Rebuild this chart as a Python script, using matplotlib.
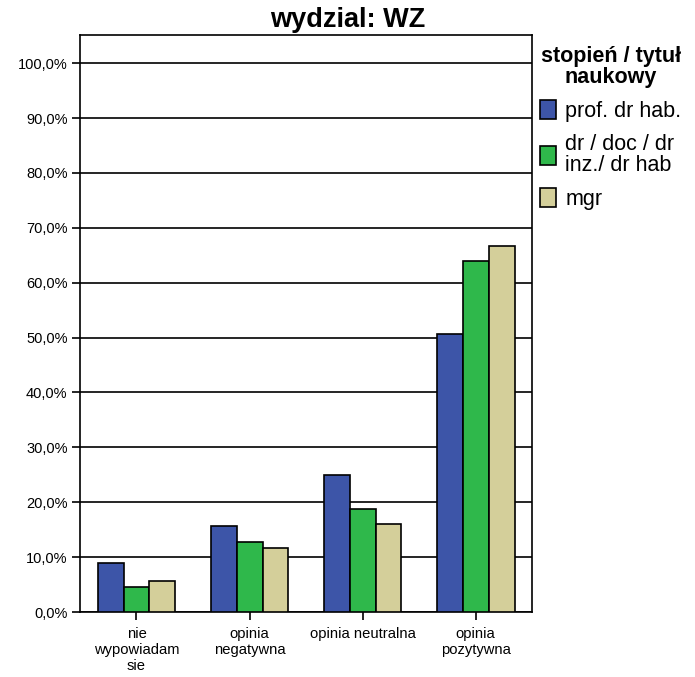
import numpy as np
import matplotlib
matplotlib.use('Agg')
import matplotlib.pyplot as plt
from matplotlib.ticker import FuncFormatter

plt.rcParams['font.family'] = ['Liberation Sans', 'DejaVu Sans']

# dane (%)
kategorie = ['nie\nwypowiadam\nsie', 'opinia\nnegatywna', 'opinia neutralna', 'opinia\npozytywna']
serie = ['prof. dr hab.', 'dr / doc / dr\ninz./ dr hab', 'mgr']
prof = [8.9, 15.6, 24.9, 50.6]
dr = [4.5, 12.7, 18.8, 64.0]
mgr = [5.6, 11.7, 16.0, 66.7]
kolory = ['#3D55A8', '#2FB84B', '#D4CF9A']

fig = plt.figure(figsize=(6.95, 6.77), dpi=100)
ax = fig.add_axes([0.1151, 0.096, 0.6504, 0.852])

x = np.arange(len(kategorie))
w = 0.23
for i, (vals, lab, c) in enumerate(zip([prof, dr, mgr], serie, kolory)):
    ax.bar(x + (i - 1) * w, vals, w, color=c, edgecolor='black', linewidth=1.2,
           label=lab, zorder=3)

ax.set_xlim(-0.5, 3.5)
ax.set_ylim(0, 105.1)
ax.set_yticks(np.arange(0, 101, 10))
ax.yaxis.set_major_formatter(FuncFormatter(lambda v, p: f'{v:.1f}%'.replace('.', ',')))
ax.grid(axis='y', color='black', linewidth=1.2, zorder=1)
ax.set_xticks(x)
ax.set_xticklabels(kategorie, fontsize=10.6, linespacing=1.15)
ax.tick_params(axis='y', labelsize=10.5, length=6, width=1.2, pad=3)
ax.tick_params(axis='x', length=6, width=1.2, pad=5)
for s in ax.spines.values():
    s.set_linewidth(1.2)

# tytul wysrodkowany na calym obrazku
fig.text(0.5, 0.97, 'wydzial: WZ', fontsize=19.5, fontweight='bold',
         ha='center', va='center')

leg = fig.legend(loc='upper left', bbox_to_anchor=(0.764, 0.9445), frameon=False,
                 title='stopień / tytuł\nnaukowy', fontsize=15.5,
                 handlelength=0.75, handleheight=1.0, handletextpad=0.45,
                 labelspacing=0.55, borderaxespad=0)
leg.get_title().set_fontweight('bold')
leg.get_title().set_fontsize(15.5)
leg.get_title().set_multialignment('center')
leg.get_title().set_linespacing(1.0)
for t in leg.get_texts():
    t.set_linespacing(1.0)

fig.savefig('out.png', dpi=100)
